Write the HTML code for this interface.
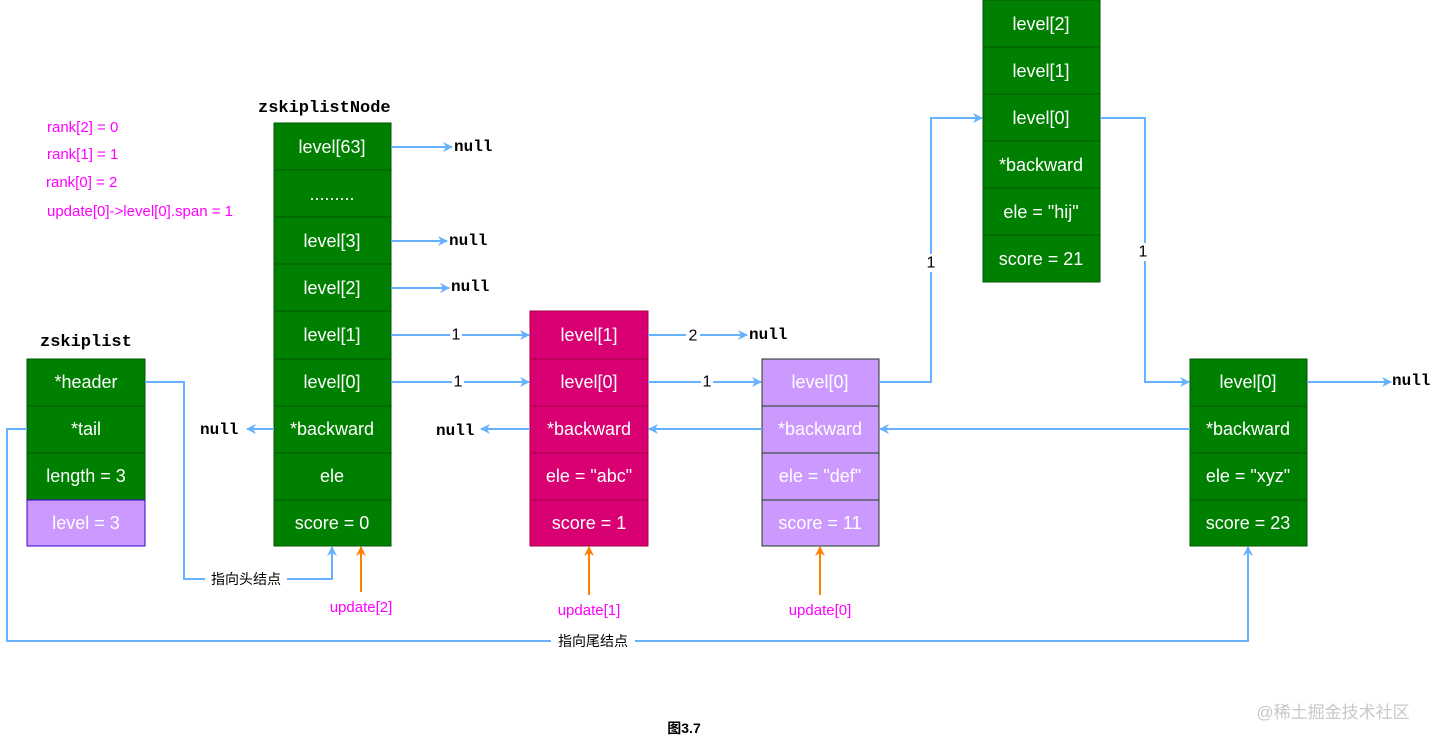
<!DOCTYPE html>
<html><head><meta charset="utf-8"><style>
body{margin:0;background:#fff}
.s{font-family:"Liberation Sans","Noto Sans CJK SC",sans-serif}
.c{fill:#fff;font-size:18px;text-anchor:middle;dominant-baseline:central;font-family:"Liberation Sans",sans-serif}
.m{font-family:"Liberation Mono","Courier New",monospace;font-size:16px;fill:#000;font-weight:bold}
.mg{fill:#ff00ff;font-size:15px;font-family:"Liberation Sans",sans-serif}
.l{stroke:#66b2ff;stroke-width:2;fill:none}
.o{stroke:#ff8000;stroke-width:2;fill:none}
.n{font-size:16px;fill:#000;text-anchor:middle;dominant-baseline:central;font-family:"Liberation Sans",sans-serif}
</style></head><body>
<svg width="1435" height="743" xmlns="http://www.w3.org/2000/svg">
<defs>
<marker id="a" markerWidth="10" markerHeight="10" refX="9" refY="5" orient="auto" markerUnits="userSpaceOnUse"><path d="M0,0 L10,5 L0,10 L3,5z" fill="#66b2ff"/></marker>
<marker id="b" markerWidth="10" markerHeight="10" refX="9" refY="5" orient="auto" markerUnits="userSpaceOnUse"><path d="M0,0 L10,5 L0,10 L3,5z" fill="#ff8000"/></marker>
</defs>
<text class="mg" x="47" y="132">rank[2] = 0</text>
<text class="mg" x="47" y="159">rank[1] = 1</text>
<text class="mg" x="46" y="187">rank[0] = 2</text>
<text class="mg" x="47" y="216">update[0]-&gt;level[0].span = 1</text>
<text class="m" x="258" y="112" style="font-size:17px">zskiplistNode</text>
<text class="m" x="40" y="346" style="font-size:17px">zskiplist</text>

<g stroke="#005700" stroke-width="1">
<rect x="27" y="359" width="118" height="47" fill="#008000"/>
<rect x="27" y="406" width="118" height="47" fill="#008000"/>
<rect x="27" y="453" width="118" height="47" fill="#008000"/>
<rect x="27" y="500" width="118" height="46" fill="#cc99ff" stroke="#3700cc"/>
</g>
<text class="c" x="86" y="382">*header</text>
<text class="c" x="86" y="429">*tail</text>
<text class="c" x="86" y="476">length = 3</text>
<text class="c" x="86" y="523">level = 3</text>

<g stroke="#005700" fill="#008000">
<rect x="274" y="123" width="117" height="47"/><rect x="274" y="170" width="117" height="47"/>
<rect x="274" y="217" width="117" height="47"/><rect x="274" y="264" width="117" height="47"/>
<rect x="274" y="311" width="117" height="48"/><rect x="274" y="359" width="117" height="47"/>
<rect x="274" y="406" width="117" height="47"/><rect x="274" y="453" width="117" height="47"/>
<rect x="274" y="500" width="117" height="46"/>
</g>
<text class="c" x="332" y="147">level[63]</text>
<text class="c" x="332" y="194">.........</text>
<text class="c" x="332" y="241">level[3]</text>
<text class="c" x="332" y="288">level[2]</text>
<text class="c" x="332" y="335">level[1]</text>
<text class="c" x="332" y="382">level[0]</text>
<text class="c" x="332" y="429">*backward</text>
<text class="c" x="332" y="476">ele</text>
<text class="c" x="332" y="523">score = 0</text>

<g stroke="#a50040" fill="#d80073">
<rect x="530" y="311" width="118" height="48"/><rect x="530" y="359" width="118" height="47"/>
<rect x="530" y="406" width="118" height="47"/><rect x="530" y="453" width="118" height="47"/>
<rect x="530" y="500" width="118" height="46"/>
</g>
<text class="c" x="589" y="335">level[1]</text>
<text class="c" x="589" y="382">level[0]</text>
<text class="c" x="589" y="429">*backward</text>
<text class="c" x="589" y="476">ele = "abc"</text>
<text class="c" x="589" y="523">score = 1</text>

<g stroke="#1e3b1e" fill="#cc99ff">
<rect x="762" y="359" width="117" height="47"/><rect x="762" y="406" width="117" height="47"/>
<rect x="762" y="453" width="117" height="47"/><rect x="762" y="500" width="117" height="46"/>
</g>
<text class="c" x="820" y="382">level[0]</text>
<text class="c" x="820" y="429">*backward</text>
<text class="c" x="820" y="476">ele = "def"</text>
<text class="c" x="820" y="523">score = 11</text>

<g stroke="#005700" fill="#008000">
<rect x="983" y="0" width="117" height="47"/><rect x="983" y="47" width="117" height="47"/>
<rect x="983" y="94" width="117" height="47"/><rect x="983" y="141" width="117" height="47"/>
<rect x="983" y="188" width="117" height="47"/><rect x="983" y="235" width="117" height="47"/>
</g>
<text class="c" x="1041" y="24">level[2]</text>
<text class="c" x="1041" y="71">level[1]</text>
<text class="c" x="1041" y="118">level[0]</text>
<text class="c" x="1041" y="165">*backward</text>
<text class="c" x="1041" y="212">ele = "hij"</text>
<text class="c" x="1041" y="259">score = 21</text>

<g stroke="#005700" fill="#008000">
<rect x="1190" y="359" width="117" height="47"/><rect x="1190" y="406" width="117" height="47"/>
<rect x="1190" y="453" width="117" height="47"/><rect x="1190" y="500" width="117" height="46"/>
</g>
<text class="c" x="1248" y="382">level[0]</text>
<text class="c" x="1248" y="429">*backward</text>
<text class="c" x="1248" y="476">ele = "xyz"</text>
<text class="c" x="1248" y="523">score = 23</text>

<path class="l" d="M391,147 L452,147" marker-end="url(#a)"/><text class="m" x="454" y="151">null</text>
<path class="l" d="M391,241 L447,241" marker-end="url(#a)"/><text class="m" x="449" y="245">null</text>
<path class="l" d="M391,288 L449,288" marker-end="url(#a)"/><text class="m" x="451" y="291">null</text>
<path class="l" d="M391,335 L529,335" marker-end="url(#a)"/>
<path class="l" d="M391,382 L529,382" marker-end="url(#a)"/>
<rect x="450" y="326" width="12" height="18" fill="#fff"/><text class="n" x="456" y="335">1</text>
<rect x="452" y="373" width="12" height="18" fill="#fff"/><text class="n" x="458" y="382">1</text>
<path class="l" d="M648,335 L747,335" marker-end="url(#a)"/><text class="m" x="749" y="339">null</text>
<rect x="686" y="326" width="14" height="18" fill="#fff"/><text class="n" x="693" y="336">2</text>
<path class="l" d="M648,382 L761,382" marker-end="url(#a)"/>
<rect x="701" y="373" width="12" height="18" fill="#fff"/><text class="n" x="707" y="382">1</text>
<path class="l" d="M879,382 L931,382 L931,118 L982,118" marker-end="url(#a)"/>
<rect x="925" y="254" width="12" height="18" fill="#fff"/><text class="n" x="931" y="263">1</text>
<path class="l" d="M1100,118 L1145,118 L1145,382 L1189,382" marker-end="url(#a)"/>
<rect x="1139" y="243" width="12" height="18" fill="#fff"/><text class="n" x="1143" y="252">1</text>
<path class="l" d="M1307,382 L1391,382" marker-end="url(#a)"/><text class="m" x="1392" y="385">null</text>
<path class="l" d="M274,429 L247,429" marker-end="url(#a)"/><text class="m" x="200" y="434">null</text>
<path class="l" d="M530,429 L481,429" marker-end="url(#a)"/><text class="m" x="436" y="435">null</text>
<path class="l" d="M762,429 L649,429" marker-end="url(#a)"/>
<path class="l" d="M1190,429 L880,429" marker-end="url(#a)"/>
<path class="l" d="M145,382 L184,382 L184,579 L332,579 L332,547" marker-end="url(#a)"/>
<rect x="205" y="570" width="82" height="18" fill="#fff"/><text class="s" x="246" y="584" style="font-size:14px;text-anchor:middle">指向头结点</text>
<path class="l" d="M27,429 L7,429 L7,641 L1248,641 L1248,547" marker-end="url(#a)"/>
<rect x="551" y="632" width="84" height="18" fill="#fff"/><text class="s" x="593" y="646" style="font-size:14px;text-anchor:middle">指向尾结点</text>
<path class="o" d="M361,592 L361,547" marker-end="url(#b)"/><text class="mg" x="361" y="612" text-anchor="middle">update[2]</text>
<path class="o" d="M589,595 L589,547" marker-end="url(#b)"/><text class="mg" x="589" y="615" text-anchor="middle">update[1]</text>
<path class="o" d="M820,595 L820,547" marker-end="url(#b)"/><text class="mg" x="820" y="615" text-anchor="middle">update[0]</text>
<text class="s" x="684" y="733" style="font-size:14px;font-weight:bold;text-anchor:middle">图3.7</text>
<text class="s" x="1333" y="718" style="font-size:17px;fill:#c8c8c8;text-anchor:middle">@稀土掘金技术社区</text>
</svg>
</body></html>
